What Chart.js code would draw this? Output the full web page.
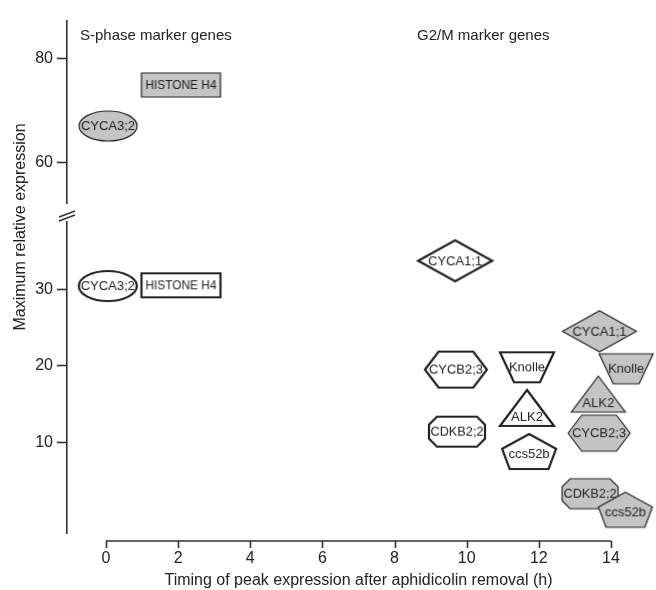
<!DOCTYPE html>
<html>
<head>
<meta charset="utf-8">
<script src="https://cdn.jsdelivr.net/npm/chart.js@4.4.1/dist/chart.umd.min.js"></script>
<style>
  body { margin: 0; background: #fff; }
  #wrap { position: relative; width: 656px; height: 590px; }
  #wrap canvas { position: absolute; left: 0; top: 0; }
</style>
</head>
<body>
<div id="wrap">
  <canvas id="lowerChart" width="656" height="590"></canvas>
  <canvas id="upperChart" width="656" height="590"></canvas>
</div>
<script>
// marker genes, in drawing order
const genes = ['CYCA3;2', 'HISTONE H4', 'CYCA1;1', 'CYCB2;3', 'CDKB2;2', 'Knolle', 'ALK2', 'ccs52b'];

// open symbols
const timingOpen = [0.05, 2.08, 9.68, 9.70, 9.73, 11.67, 11.67, 11.73];
const expressionOpen = [30.4, 30.5, 33.7, 19.5, 11.4, 19.8, 14.5, 8.8];

// grey symbols
const timingFilled = [0.06, 2.08, 13.68, 13.67, 13.42, 14.42, 13.65, 14.40];
const expressionFilled = [67.1, 75.0, 24.5, 11.2, 3.3, 19.6, 16.3, 1.2];

const xTicks = [0, 2, 4, 6, 8, 10, 12, 14];
const yTicksUpper = [60, 80];
const yTicksLower = [10, 20, 30];

// broken axis: two value windows
const xMin = -1.08, xMax = 14;
const upperMin = 52.3, upperMax = 87.3;
const lowerMin = -1.83, lowerMax = 38.76;

const groupLabels = ['S-phase marker genes', 'G2/M marker genes'];
const xTitle = 'Timing of peak expression after aphidicolin removal (h)';
const yTitle = 'Maximum relative expression';

// symbol shape per gene (w, h in px)
const shapeOf = {
    'CYCA3;2': { kind: 'ellipse', w: 58, h: 30 },
    'HISTONE H4': { kind: 'rect', w: 79, h: 24 },
    'CYCA1;1': { kind: 'diamond', w: 74, h: 41 },
    'CYCB2;3': { kind: 'hexagon', w: 62, h: 36 },
    'CDKB2;2': { kind: 'octagon', w: 56, h: 30 },
    'Knolle': { kind: 'trapezoid', w: 54, h: 30 },
    'ALK2': { kind: 'triangle', w: 54, h: 36 },
    'ccs52b': { kind: 'pentagon', w: 54, h: 35 },
};

const INK = '#222';
const GREY = '#c4c4c4';
const FONT = '"Liberation Sans", Arial, sans-serif';

function tracePath(ctx, kind, w, h) {
    const x0 = -w / 2, y0 = -h / 2, x1 = w / 2, y1 = h / 2;
    ctx.beginPath();
    if (kind === 'ellipse') {
        ctx.ellipse(0, 0, w / 2, h / 2, 0, 0, Math.PI * 2);
    } else if (kind === 'rect') {
        ctx.rect(x0, y0, w, h);
    } else if (kind === 'diamond') {
        ctx.moveTo(x0, 0); ctx.lineTo(0, y0); ctx.lineTo(x1, 0); ctx.lineTo(0, y1);
    } else if (kind === 'hexagon') {
        const c = w * 0.22;
        ctx.moveTo(x0, 0); ctx.lineTo(x0 + c, y0); ctx.lineTo(x1 - c, y0);
        ctx.lineTo(x1, 0); ctx.lineTo(x1 - c, y1); ctx.lineTo(x0 + c, y1);
    } else if (kind === 'octagon') {
        const cx = 8, cy = 8;
        ctx.moveTo(x0 + cx, y0); ctx.lineTo(x1 - cx, y0); ctx.lineTo(x1, y0 + cy);
        ctx.lineTo(x1, y1 - cy); ctx.lineTo(x1 - cx, y1); ctx.lineTo(x0 + cx, y1);
        ctx.lineTo(x0, y1 - cy); ctx.lineTo(x0, y0 + cy);
    } else if (kind === 'trapezoid') {
        const b = w * 0.26;
        ctx.moveTo(x0, y0); ctx.lineTo(x1, y0); ctx.lineTo(x1 - b, y1); ctx.lineTo(x0 + b, y1);
    } else if (kind === 'triangle') {
        ctx.moveTo(0, y0); ctx.lineTo(x1, y1); ctx.lineTo(x0, y1);
    } else if (kind === 'pentagon') {
        const s = y0 + h * 0.42, b = w * 0.14;
        ctx.moveTo(0, y0); ctx.lineTo(x1, s); ctx.lineTo(x1 - b, y1);
        ctx.lineTo(x0 + b, y1); ctx.lineTo(x0, s);
    }
    ctx.closePath();
}

function makeSymbol(gene, filled) {
    const s = shapeOf[gene];
    const pad = 3;
    const c = document.createElement('canvas');
    c.width = s.w + pad * 2;
    c.height = s.h + pad * 2;
    const ctx = c.getContext('2d');
    ctx.translate(c.width / 2, c.height / 2);
    tracePath(ctx, s.kind, s.w, s.h);
    ctx.fillStyle = filled ? GREY : '#fff';
    ctx.fill();
    ctx.lineWidth = filled ? 1.2 : 2.2;
    ctx.lineJoin = 'miter';
    ctx.strokeStyle = INK;
    ctx.stroke();

    let ty = 0;
    if (s.kind === 'triangle') ty = s.h * 0.24;
    if (s.kind === 'pentagon') ty = s.h * 0.08;
    const maxW = s.kind === 'rect' ? s.w - 8 : s.w - 3;
    ctx.fillStyle = INK;
    ctx.font = '13px ' + FONT;
    ctx.textAlign = 'center';
    ctx.textBaseline = 'middle';
    ctx.fillText(gene, 0, ty + 0.5, maxW);
    return c;
}

function pickPoints(xs, ys, lo, hi) {
    const pts = [];
    genes.forEach((g, i) => {
        if (ys[i] >= lo && ys[i] <= hi) {
            pts.push({ x: xs[i], y: ys[i], gene: g });
        }
    });
    return pts;
}

function makeDataset(points, filled) {
    return {
        data: points,
        pointStyle: points.map(p => makeSymbol(p.gene, filled)),
        pointRadius: 20,
        clip: false,
    };
}

const axisFont = { family: FONT, size: 16 };

function yScale(min, max, ticks) {
    return {
        type: 'linear',
        min, max,
        afterFit: s => { s.width = 67; },
        afterBuildTicks: s => { s.ticks = ticks.map(v => ({ value: v })); },
        border: { display: true, color: '#333', width: 1.6 },
        grid: { drawOnChartArea: false, tickLength: 10, tickColor: '#333', tickWidth: 1.6 },
        ticks: { color: INK, font: axisFont, padding: 4 },
    };
}

// annotation texts, offset x axis and the break marks
const decorations = {
    id: 'decorations',
    afterDraw(chart, args, opts) {
        const ctx = chart.ctx;
        const xs = chart.scales.x;
        ctx.save();
        ctx.fillStyle = INK;
        ctx.strokeStyle = '#333';
        ctx.lineWidth = 1.6;
        if (opts.upper) {
            ctx.font = '15px ' + FONT;
            ctx.textBaseline = 'alphabetic';
            ctx.textAlign = 'left';
            ctx.fillText(groupLabels[0], 80, 40);
            ctx.fillText(groupLabels[1], 417, 40);
        } else {
            const y = chart.chartArea.bottom + 8;
            ctx.beginPath();
            ctx.moveTo(xs.getPixelForValue(xTicks[0]), y);
            ctx.lineTo(xs.getPixelForValue(xTicks[xTicks.length - 1]), y);
            xs.ticks.forEach(t => {
                const px = Math.round(xs.getPixelForValue(t.value)) + 0.5;
                ctx.moveTo(px, y);
                ctx.lineTo(px, y + 7);
            });
            ctx.stroke();

            // break marks between the two y windows
            const ax = chart.chartArea.left;
            const my = chart.chartArea.top - 10;
            ctx.lineWidth = 1.4;
            ctx.beginPath();
            ctx.moveTo(ax - 8, my + 5); ctx.lineTo(ax + 8, my - 1);
            ctx.moveTo(ax - 8, my + 9); ctx.lineTo(ax + 8, my + 3);
            ctx.stroke();

            ctx.font = '16px ' + FONT;
            ctx.textAlign = 'center';
            ctx.textBaseline = 'alphabetic';
            const cx = (xs.getPixelForValue(xTicks[0]) + xs.getPixelForValue(xTicks[xTicks.length - 1])) / 2;
            ctx.fillText(xTitle, cx, 585);

            ctx.translate(25, 227);
            ctx.rotate(-Math.PI / 2);
            ctx.fillText(yTitle, 0, 0);
        }
        ctx.restore();
    },
};

const common = {
    animation: false,
    responsive: false,
    events: [],
    plugins: { legend: { display: false }, tooltip: { enabled: false } },
};

new Chart(document.getElementById('upperChart').getContext('2d'), {
    type: 'scatter',
    data: {
        datasets: [makeDataset(pickPoints(timingFilled, expressionFilled, upperMin, upperMax), true)],
    },
    options: {
        ...common,
        layout: { padding: { top: 12, bottom: 387, left: 0, right: 45 } },
        scales: {
            x: { type: 'linear', min: xMin, max: xMax, display: false },
            y: yScale(upperMin, upperMax, yTicksUpper),
        },
        plugins: { ...common.plugins, decorations: { upper: true } },
    },
    plugins: [decorations],
});

new Chart(document.getElementById('lowerChart').getContext('2d'), {
    type: 'scatter',
    data: {
        datasets: [
            makeDataset(pickPoints(timingOpen, expressionOpen, lowerMin, lowerMax), false),
            makeDataset(pickPoints(timingFilled, expressionFilled, lowerMin, lowerMax), true),
        ],
    },
    options: {
        ...common,
        layout: { padding: { top: 222, bottom: 0, left: 0, right: 45 } },
        scales: {
            x: {
                type: 'linear',
                min: xMin, max: xMax,
                afterFit: s => { s.height = 57; },
                afterBuildTicks: s => { s.ticks = xTicks.map(v => ({ value: v })); },
                border: { display: false },
                grid: { display: false },
                ticks: { color: INK, font: axisFont, padding: 8 },
            },
            y: yScale(lowerMin, lowerMax, yTicksLower),
        },
        plugins: { ...common.plugins, decorations: { upper: false } },
    },
    plugins: [decorations],
});
</script>
</body>
</html>
